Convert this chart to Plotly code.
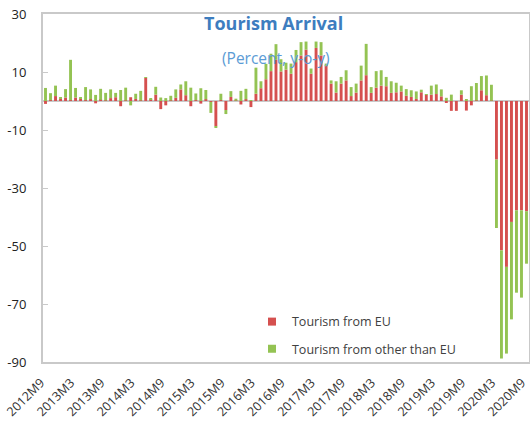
import plotly.graph_objects as go

# Monthly observations 2012M9 .. 2020M9
start_year, start_month = 2012, 9
n_months = 97
months = []
y, m = start_year, start_month
for _ in range(n_months):
    months.append(f"{y}M{m}")
    m += 1
    if m > 12:
        m = 1
        y += 1

eu = [-1.0, 0.3, 1.7, 0.8, 1.2, 0.3, 1.2, 0.9, 0.3, 0.6,
      -0.8, 0.4, 0.2, 1.0, 1.3, -1.8, 0.2, 1.3, 0.7, 0.2,
      8.0, 0.6, 2.2, -2.8, -1.5, 0.2, 1.1, 4.0, 2.0, -1.8,
      0.3, -0.9, 0.6, -0.3, -8.7, 0.3, -3.1, 1.4, 0.1, -1.2,
      0.6, -2.1, 2.5, 4.4, 7.5, 10.3, 14.2, 10.2, 10.8, 9.4,
      13.4, 15.7, 17.7, 9.4, 18.3, 15.7, 12.3, 6.0, 2.9, 6.0,
      7.1, 1.7, 2.9, 7.1, 8.9, 2.8, 4.6, 5.3, 5.1, 2.8,
      3.0, 3.3, 1.8, 1.4, 0.7, 3.0, 2.2, 2.2, 2.4, 1.6,
      -0.5, -3.4, -3.4, 2.2, -3.3, -1.5, 0.2, 3.7, 2.0, 0.1,
      -20.2, -51.5, -57.2, -41.7, -37.7, -37.7, -38.0]

non_eu = [4.5, 2.4, 3.6, 0.4, 2.9, 13.9, 3.3, 0.2, 4.5, 3.4,
          2.1, 3.8, 2.6, 3.0, 1.5, 3.8, 4.4, -1.5, 1.8, 3.3,
          0.2, 0.4, 2.7, 1.2, 1.0, 1.6, 2.9, 1.7, 4.8, 4.6,
          2.3, 4.4, 3.2, -3.8, -0.3, 2.2, -1.4, 2.0, 0.7, 3.5,
          3.6, 0.3, 9.0, 2.4, 5.3, 6.0, 5.4, 4.2, 2.4, 3.5,
          4.2, 4.6, 2.8, 1.8, 2.2, 4.6, 0.6, 1.1, 3.9, 2.3,
          3.5, 3.1, 3.1, 5.1, 10.8, 2.0, 5.7, 5.3, 3.2, 4.0,
          3.3, 2.0, 2.3, 2.3, 2.6, 0.9, 0.2, 3.1, 3.3, 2.4,
          1.1, 2.2, 0.0, 1.5, 0.4, 5.1, 6.0, 4.9, 6.8, 5.5,
          -23.6, -37.3, -29.9, -33.6, -28.4, -30.1, -18.1]

tick_idx = list(range(0, n_months, 6))
tick_labels = [months[i] + "\u00a0\u00a0" for i in tick_idx]
y_ticks = [30, 10, -10, -30, -50, -70, -90]
y_tick_text = [str(v) for v in y_ticks]

series_names = ["Tourism from EU", "Tourism from other than EU"]

RED = "#D5504F"
GREEN = "#94C353"
FONT = "Open Sans"

x = list(range(n_months))

fig = go.Figure()
fig.add_trace(go.Bar(x=x, y=eu, name=series_names[0], marker_color=RED,
                     marker_line_width=0, showlegend=False))
fig.add_trace(go.Bar(x=x, y=non_eu, name=series_names[1],
                     marker_color=GREEN, marker_line_width=0, showlegend=False))
# legend entries with small square keys
fig.add_trace(go.Scatter(x=[None], y=[None], mode="markers", name=series_names[0],
                         marker=dict(symbol="square", size=8, color=RED),
                         legend="legend"))
fig.add_trace(go.Scatter(x=[None], y=[None], mode="markers", name=series_names[1],
                         marker=dict(symbol="square", size=8, color=GREEN),
                         legend="legend2"))

legend_common = dict(xanchor="left", yanchor="middle", bgcolor="rgba(0,0,0,0)",
                     font=dict(size=12.5, color="#404040", family=FONT),
                     itemwidth=30)

fig.update_layout(
    barmode="relative",
    bargap=0.42,
    width=530, height=424,
    margin=dict(l=43, r=1, t=14, b=62, autoexpand=False),
    paper_bgcolor="white",
    plot_bgcolor="white",
    font=dict(family=FONT, color="#404040"),
    showlegend=True,
    legend=dict(x=0.43, y=0.115, **legend_common),
    legend2=dict(x=0.43, y=0.037, **legend_common),
    annotations=[
        dict(text="<b>Tourism Arrival</b>", x=0.475, y=0.974, xref="paper", yref="paper",
             xanchor="center", yanchor="middle", showarrow=False,
             font=dict(size=18, color="#3D7DBF", family=FONT)),
        dict(text="(Percent, y-o-y)", x=0.48, y=0.874, xref="paper", yref="paper",
             xanchor="center", yanchor="middle", showarrow=False,
             font=dict(size=15.5, color="#5B9BD5", family=FONT)),
    ],
)

fig.update_xaxes(
    range=[-0.5, n_months - 0.5],
    tickmode="array", tickvals=tick_idx, ticktext=tick_labels,
    tickangle=-45, tickfont=dict(size=12.5, color="#333333"),
    ticklabelstandoff=2,
    showgrid=False, zeroline=False, automargin=False,
    ticklabeloverflow="allow",
    showline=True, mirror=True, linecolor="#C9C9C9", linewidth=2,
    ticks="",
)
fig.update_yaxes(
    range=[-90, 30], automargin=False,
    tickmode="array", tickvals=y_ticks, ticktext=y_tick_text,
    tickfont=dict(size=13, color="#222222"),
    ticklabelstandoff=12,
    showgrid=False,
    zeroline=True, zerolinecolor="#C9C9C9", zerolinewidth=2,
    showline=True, mirror=True, linecolor="#C9C9C9", linewidth=2,
    ticks="inside", ticklen=5, tickcolor="#C9C9C9", tickwidth=1,
)

fig.write_html("out.html", config={"displayModeBar": False},
               post_script="document.body.style.margin='0';document.body.style.overflow='hidden';")
